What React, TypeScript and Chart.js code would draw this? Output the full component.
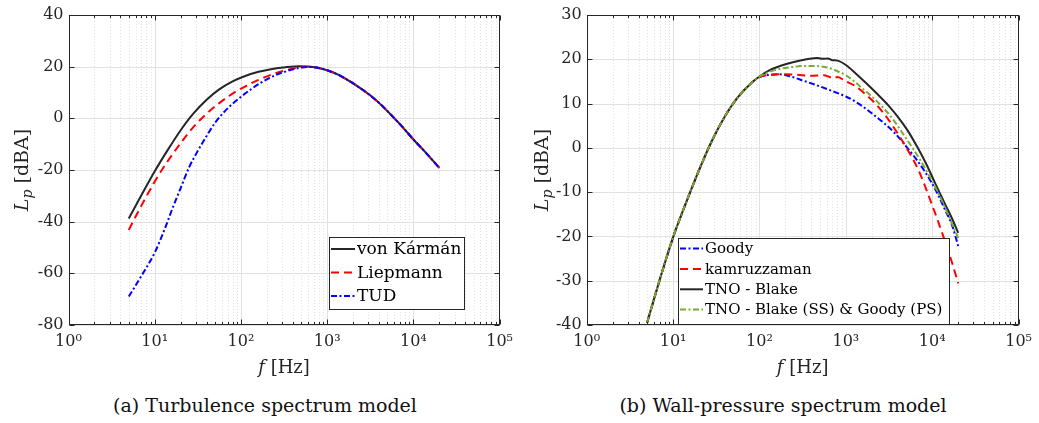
import React, { useEffect, useRef } from 'react';
import { Chart, registerables } from 'chart.js';

Chart.register(...registerables);

const FONT = "'DejaVu Serif', serif";
const AX = '#262626';

// ---------- (a) Turbulence spectrum model ----------
const vonKarmanF = [5, 7, 10, 14, 20, 28, 40, 56, 80, 110, 160, 230, 330, 480, 600, 750, 1000, 1300, 1700, 2300, 3100, 4200, 5600, 7500, 10000, 13500, 20000];
const vonKarmanLp = [-38.8, -29.8, -20.5, -12.5, -4.6, 1.8, 7.2, 11.2, 14.3, 16.3, 18.0, 19.1, 19.8, 20.2, 20.1, 19.7, 18.6, 17.1, 15.0, 12.2, 9.1, 5.3, 1.1, -3.4, -8.2, -12.8, -19.2];

const liepmannF = [5, 7, 10, 14, 20, 28, 40, 56, 80, 110, 160, 230, 330, 480, 600, 750, 1000, 1300, 1700, 2300, 3100, 4200, 5600, 7500, 10000, 13500, 20000];
const liepmannLp = [-43.2, -33.8, -24.5, -16.8, -9.6, -3.4, 1.8, 5.9, 9.6, 12.2, 14.9, 17.0, 18.6, 19.7, 20.0, 19.7, 18.6, 17.1, 15.0, 12.2, 9.1, 5.3, 1.1, -3.4, -8.2, -12.8, -19.2];

const tudF = [5, 7, 10, 13, 16, 20, 25, 32, 40, 50, 66, 94, 134, 207, 321, 455, 600, 750, 1000, 1300, 1700, 2300, 3100, 4200, 5600, 7500, 10000, 13500, 20000];
const tudLp = [-69, -61, -52, -43, -35, -27, -19, -12.3, -6.8, -1.8, 3.0, 7.6, 11.5, 15.4, 18.0, 19.4, 19.9, 19.7, 18.6, 17.1, 15.0, 12.2, 9.1, 5.3, 1.1, -3.4, -8.2, -12.8, -19.2];

// ---------- (b) Wall-pressure spectrum model ----------
const goodyF = [5, 7, 10, 14, 20, 28, 40, 56, 80, 100, 133, 170, 230, 330, 480, 700, 1000, 1400, 2000, 2800, 3700, 5000, 6500, 8500, 11000, 14000, 17000, 20000];
const goodyLp = [-39.5, -29.8, -20.2, -12.6, -5.0, 1.5, 7.2, 11.4, 14.6, 16.0, 16.5, 16.6, 16.1, 15.1, 14.0, 12.8, 11.6, 10.0, 7.8, 5.5, 3.3, 0.3, -2.5, -5.8, -9.6, -13.9, -17.5, -22.2];

const kamruzzamanF = [5, 7, 10, 14, 20, 28, 40, 56, 80, 100, 133, 190, 270, 400, 550, 650, 700, 800, 1000, 1250, 1600, 2200, 3000, 4000, 5000, 6000, 7000, 8200, 9700, 11500, 14000, 17000, 20000];
const kamruzzamanLp = [-39.5, -29.8, -20.2, -12.6, -5.0, 1.5, 7.2, 11.4, 14.6, 16.0, 16.5, 16.6, 16.5, 16.3, 16.4, 16.0, 15.7, 16.0, 15.0, 14.1, 12.5, 10.0, 6.8, 3.2, 0.1, -2.6, -5.2, -8.5, -12.3, -16.2, -21.0, -26.0, -30.6];

const blakeF = [5, 7, 10, 14, 20, 28, 40, 56, 80, 100, 133, 180, 250, 350, 470, 550, 620, 700, 800, 1000, 1300, 1700, 2300, 3100, 4000, 5200, 6800, 8500, 11000, 14000, 17000, 20000];
const blakeLp = [-39.5, -29.8, -20.2, -12.6, -5.0, 1.5, 7.2, 11.4, 14.6, 16.1, 17.6, 18.6, 19.4, 20.0, 20.3, 20.1, 20.2, 19.8, 19.7, 18.7, 16.8, 14.7, 12.2, 9.6, 7.0, 3.9, 0.0, -3.6, -8.3, -12.6, -16.0, -19.2];

const blakeGoodyF = [5, 7, 10, 14, 20, 28, 40, 56, 80, 100, 133, 180, 250, 350, 450, 550, 650, 800, 1000, 1250, 1600, 2100, 2700, 3500, 4800, 6000, 7500, 9000, 11000, 13500, 16500, 20000];
const blakeGoodyLp = [-39.5, -29.8, -20.2, -12.6, -5.0, 1.5, 7.2, 11.4, 14.6, 16.1, 17.2, 17.9, 18.3, 18.5, 18.5, 18.3, 18.0, 17.3, 16.4, 15.0, 13.2, 11.2, 9.1, 6.5, 2.6, -0.2, -3.2, -5.9, -9.1, -12.7, -16.6, -20.4];

const SUP = ['⁰', '¹', '²', '³', '⁴', '⁵'];

type Series = { label: string; f: number[]; lp: number[]; color: string; dash: number[] };

const leftSeries: Series[] = [
  { label: 'von Kármán', f: vonKarmanF, lp: vonKarmanLp, color: '#262626', dash: [] },
  { label: 'Liepmann', f: liepmannF, lp: liepmannLp, color: '#ff0000', dash: [8, 5] },
  { label: 'TUD', f: tudF, lp: tudLp, color: '#0000ff', dash: [6, 2.5, 2, 2.5] },
];

const rightSeries: Series[] = [
  { label: 'Goody', f: goodyF, lp: goodyLp, color: '#0000ff', dash: [6, 2.5, 2, 2.5] },
  { label: 'kamruzzaman', f: kamruzzamanF, lp: kamruzzamanLp, color: '#ff0000', dash: [8, 5] },
  { label: 'TNO - Blake', f: blakeF, lp: blakeLp, color: '#262626', dash: [] },
  { label: 'TNO - Blake (SS) & Goody (PS)', f: blakeGoodyF, lp: blakeGoodyLp, color: '#77ac30', dash: [6, 2.5, 2, 2.5] },
];

const decorPlugin = {
  id: 'decor',
  beforeDatasetsDraw(chart: any) {
    const { ctx, chartArea: a } = chart;
    const x = chart.scales.x;
    const y = chart.scales.y;
    ctx.save();
    ctx.lineWidth = 1;
    ctx.strokeStyle = 'rgba(38,38,38,0.14)';
    ctx.setLineDash([1, 2]);
    for (let d = 0; d < 5; d++) {
      for (let m = 2; m <= 9; m++) {
        const px = Math.round(x.getPixelForValue(m * Math.pow(10, d))) + 0.5;
        ctx.beginPath();
        ctx.moveTo(px, a.top);
        ctx.lineTo(px, a.bottom);
        ctx.stroke();
      }
    }
    ctx.setLineDash([]);
    ctx.strokeStyle = '#e1e1e1';
    for (let d = 1; d < 5; d++) {
      const px = Math.round(x.getPixelForValue(Math.pow(10, d))) + 0.5;
      ctx.beginPath();
      ctx.moveTo(px, a.top);
      ctx.lineTo(px, a.bottom);
      ctx.stroke();
    }
    y.ticks.forEach((t: any) => {
      const py = Math.round(y.getPixelForValue(t.value)) + 0.5;
      ctx.beginPath();
      ctx.moveTo(a.left, py);
      ctx.lineTo(a.right, py);
      ctx.stroke();
    });
    ctx.restore();
  },
  afterDraw(chart: any, _args: any, opts: any) {
    const { ctx, chartArea: a } = chart;
    const x = chart.scales.x;
    const y = chart.scales.y;
    ctx.save();
    ctx.strokeStyle = AX;
    ctx.lineWidth = 1;
    ctx.setLineDash([]);
    const L = Math.round(a.left) + 0.5, R = Math.round(a.right) - 0.5;
    const T = Math.round(a.top) + 0.5, B = Math.round(a.bottom) - 0.5;
    ctx.strokeRect(L, T, R - L, B - T);
    ctx.beginPath();
    for (let d = 0; d <= 5; d++) {
      for (let m = 1; m <= 9; m++) {
        const v = m * Math.pow(10, d);
        if (v > 1e5) break;
        const px = Math.round(x.getPixelForValue(v)) + 0.5;
        const len = m === 1 ? 5 : 2.5;
        ctx.moveTo(px, B);
        ctx.lineTo(px, B - len);
        ctx.moveTo(px, T);
        ctx.lineTo(px, T + len);
      }
    }
    y.ticks.forEach((t: any) => {
      const py = Math.round(y.getPixelForValue(t.value)) + 0.5;
      ctx.moveTo(L, py);
      ctx.lineTo(L + 5, py);
      ctx.moveTo(R, py);
      ctx.lineTo(R - 5, py);
    });
    ctx.stroke();

    // x title: f [Hz]
    ctx.fillStyle = AX;
    ctx.textBaseline = 'alphabetic';
    const xs = 18;
    ctx.font = `italic ${xs}px ${FONT}`;
    const wf = ctx.measureText('f').width;
    ctx.font = `${xs}px ${FONT}`;
    const wr = ctx.measureText(' [Hz]').width;
    const cx = (a.left + a.right) / 2;
    const sx = cx - (wf + wr) / 2;
    ctx.font = `italic ${xs}px ${FONT}`;
    ctx.fillText('f', sx, 373);
    ctx.font = `${xs}px ${FONT}`;
    ctx.fillText(' [Hz]', sx + wf, 373);

    // y title: L_p [dBA]
    const ys = 19;
    const ps = Math.round(ys * 0.72);
    ctx.save();
    ctx.translate(opts.yTitleX, (a.top + a.bottom) / 2);
    ctx.rotate(-Math.PI / 2);
    ctx.font = `italic ${ys}px ${FONT}`;
    const wL = ctx.measureText('L').width;
    ctx.font = `italic ${ps}px ${FONT}`;
    const wp = ctx.measureText('p').width;
    ctx.font = `${ys}px ${FONT}`;
    const wd = ctx.measureText(' [dBA]').width;
    const tx = -(wL + wp + wd) / 2;
    ctx.font = `italic ${ys}px ${FONT}`;
    ctx.fillText('L', tx, 0);
    ctx.font = `italic ${ps}px ${FONT}`;
    ctx.fillText('p', tx + wL, 4);
    ctx.font = `${ys}px ${FONT}`;
    ctx.fillText(' [dBA]', tx + wL + wp, 0);
    ctx.restore();

    // legend
    const lg = opts.legend;
    ctx.fillStyle = '#ffffff';
    ctx.fillRect(lg.x0, lg.y0, lg.x1 - lg.x0, lg.y1 - lg.y0);
    ctx.strokeStyle = AX;
    ctx.lineWidth = 1;
    ctx.strokeRect(lg.x0 + 0.5, lg.y0 + 0.5, lg.x1 - lg.x0 - 1, lg.y1 - lg.y0 - 1);
    chart.data.datasets.forEach((ds: any, i: number) => {
      const ry = lg.rows[i];
      ctx.save();
      ctx.strokeStyle = ds.borderColor;
      ctx.lineWidth = 2;
      ctx.setLineDash(ds.borderDash || []);
      ctx.beginPath();
      ctx.moveTo(lg.s0, ry);
      ctx.lineTo(lg.s1, ry);
      ctx.stroke();
      ctx.restore();
      ctx.fillStyle = '#000';
      ctx.font = `${lg.font}px ${FONT}`;
      ctx.textBaseline = 'middle';
      ctx.fillText(ds.label, lg.tx, ry + 1);
    });
    ctx.restore();
  },
};

type Cfg = {
  series: Series[];
  ymin: number;
  ymax: number;
  step: number;
  yAxisWidth: number;
  padRight: number;
  yTitleX: number;
  legend: any;
};

function SpectrumChart({ cfg, width, height }: { cfg: Cfg; width: number; height: number }) {
  const ref = useRef<HTMLCanvasElement | null>(null);
  useEffect(() => {
    if (!ref.current) return;
    const n = cfg.series.length;
    const chart = new Chart(ref.current, {
      type: 'line',
      data: {
        datasets: cfg.series.map((s, i) => ({
          label: s.label,
          data: s.f.map((f, j) => ({ x: f, y: s.lp[j] })),
          borderColor: s.color,
          borderDash: s.dash,
          borderWidth: 2,
          pointRadius: 0,
          fill: false,
          cubicInterpolationMode: 'monotone',
          order: n - 1 - i,
        })),
      },
      options: {
        animation: false,
        responsive: false,
        devicePixelRatio: 1,
        events: [],
        layout: { padding: { left: 0, right: cfg.padRight, top: 15, bottom: 0 } },
        plugins: {
          legend: { display: false },
          tooltip: { enabled: false },
          decor: { legend: cfg.legend, yTitleX: cfg.yTitleX },
        } as any,
        scales: {
          x: {
            type: 'logarithmic',
            min: 1,
            max: 100000,
            grid: { display: false, drawTicks: false },
            border: { display: false },
            ticks: {
              autoSkip: false,
              maxRotation: 0,
              minRotation: 0,
              padding: 7,
              color: AX,
              font: { family: FONT, size: 16 },
              callback: (v: any) => {
                const l = Math.log10(Number(v));
                const r = Math.round(l);
                return Math.abs(l - r) < 1e-6 ? '10' + SUP[r] : '';
              },
            },
            afterFit: (s: any) => {
              s.height = 60;
            },
          },
          y: {
            type: 'linear',
            min: cfg.ymin,
            max: cfg.ymax,
            grid: { display: false, drawTicks: false },
            border: { display: false },
            ticks: {
              stepSize: cfg.step,
              padding: 5,
              color: AX,
              font: { family: FONT, size: 16 },
            },
            afterFit: (s: any) => {
              s.width = cfg.yAxisWidth;
            },
          },
        },
      } as any,
      plugins: [decorPlugin],
    });
    return () => chart.destroy();
  }, [cfg]);
  return <canvas ref={ref} width={width} height={height} style={{ display: 'block', width, height }} />;
}

const leftCfg: Cfg = {
  series: leftSeries,
  ymin: -80,
  ymax: 40,
  step: 20,
  yAxisWidth: 68.5,
  padRight: 13,
  yTitleX: 28,
  legend: { x0: 329, y0: 237, x1: 465, y1: 310, rows: [249, 272.5, 296], s0: 331, s1: 355, tx: 357, font: 17 },
};

const rightCfg: Cfg = {
  series: rightSeries,
  ymin: -40,
  ymax: 30,
  step: 10,
  yAxisWidth: 66.7,
  padRight: 13.3,
  yTitleX: 28,
  legend: { x0: 158, y0: 238, x1: 430, y1: 325, rows: [248.5, 269, 289.3, 309.5], s0: 160, s1: 183, tx: 185, font: 15 },
};

const captionStyle: React.CSSProperties = {
  position: 'absolute',
  top: 392,
  height: 26,
  lineHeight: '26px',
  fontFamily: FONT,
  fontSize: 19,
  color: '#111',
  textAlign: 'center',
  whiteSpace: 'nowrap',
};

export default function App() {
  return (
    <div style={{ position: 'fixed', left: 0, top: 0, width: 1039, height: 423, background: '#fff', overflow: 'hidden' }}>
      <div style={{ position: 'absolute', left: 0, top: 0 }}>
        <SpectrumChart cfg={leftCfg} width={520} height={385} />
      </div>
      <div style={{ position: 'absolute', left: 520, top: 0 }}>
        <SpectrumChart cfg={rightCfg} width={519} height={385} />
      </div>
      <div style={{ ...captionStyle, left: 65, width: 400 }}>(a) Turbulence spectrum model</div>
      <div style={{ ...captionStyle, left: 583, width: 400 }}>(b) Wall-pressure spectrum model</div>
    </div>
  );
}
